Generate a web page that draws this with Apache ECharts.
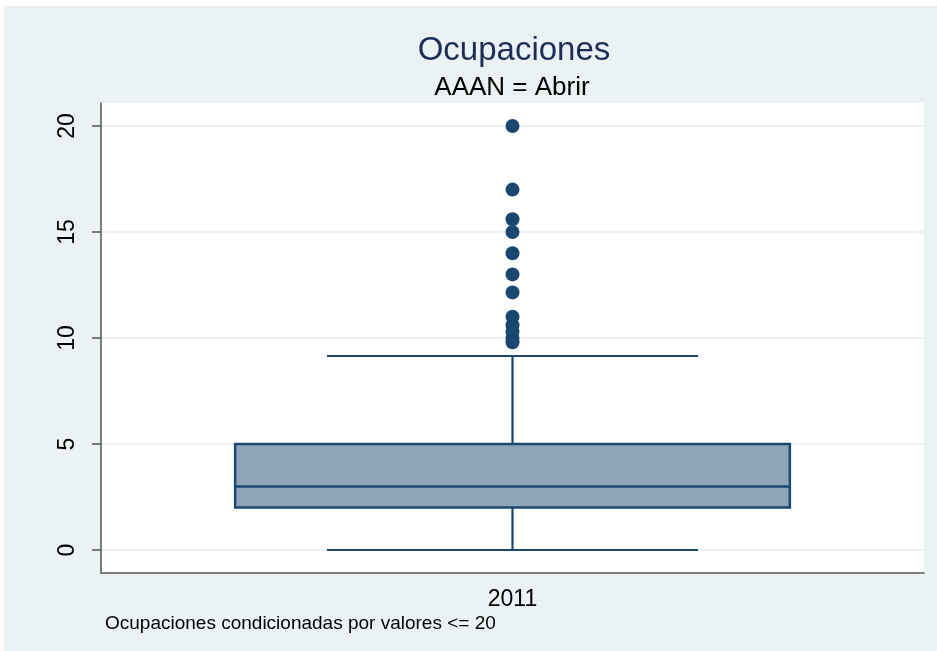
<!DOCTYPE html>
<html>
<head>
<meta charset="utf-8">
<script src="https://cdn.jsdelivr.net/npm/echarts@6/dist/echarts.min.js"></script>
<style>
    html, body { margin: 0; padding: 0; background: #ffffff; }
    #chart { position: absolute; left: 4px; top: 6px; width: 933px; height: 645px; }
</style>
</head>
<body>
<div id="chart"></div>
<script>
// box plot summary
const categories = ['2011'];
const lowerWhisker = [0];
const q1 = [2];
const median = [3];
const q3 = [5];
const upperWhisker = [9.15];
const outliers = [20, 17, 15.6, 15, 14, 13, 12.15, 11, 10.6, 10.3, 10, 9.8];
const yTicks = [0, 5, 10, 15, 20];

const navy = '#1a476f';
const font = 'Liberation Sans, Arial, sans-serif';

const chart = echarts.init(document.getElementById('chart'));

const boxData = categories.map((c, i) => [i, lowerWhisker[i], q1[i], median[i], q3[i], upperWhisker[i]]);

const option = {
    backgroundColor: '#eaf2f3',
    animation: false,
    title: [
        {
            text: 'Ocupaciones',
            left: 505, top: 23, textAlign: 'center',
            textStyle: { fontFamily: font, fontSize: 33, fontWeight: 'normal', color: '#1e2d58' }
        },
        {
            text: 'AAAN = Abrir',
            left: 503, top: 64, textAlign: 'center',
            textStyle: { fontFamily: font, fontSize: 26, fontWeight: 'normal', color: '#000' }
        },
        {
            text: 'Ocupaciones condicionadas por valores <= 20',
            left: 96, top: 603,
            textStyle: { fontFamily: font, fontSize: 19, fontWeight: 'normal', color: '#000' }
        }
    ],
    grid: [
        // data grid: 0..20 span
        { left: 97, right: 13, top: 120, bottom: 101 },
        // frame grid: white plot region with axis lines
        { left: 97, right: 13, top: 97, bottom: 78, show: true, backgroundColor: '#ffffff', borderWidth: 0, z: -5 }
    ],
    xAxis: [
        { type: 'category', gridIndex: 0, data: categories, show: false },
        {
            type: 'category', gridIndex: 1, data: categories,
            axisLine: { lineStyle: { color: '#555', width: 1.5 } },
            axisTick: { alignWithLabel: true, length: 8, lineStyle: { color: '#555', width: 1.5 } },
            axisLabel: { fontFamily: font, fontSize: 23, color: '#000', margin: 15 }
        }
    ],
    yAxis: [
        {
            type: 'value', gridIndex: 0, min: yTicks[0], max: yTicks[yTicks.length - 1], interval: 5,
            axisLine: { show: false },
            axisTick: { show: true, length: 9, lineStyle: { color: '#555', width: 1.5 } },
            axisLabel: { rotate: 90, fontFamily: font, fontSize: 23, color: '#000', margin: 22 },
            splitLine: { lineStyle: { color: '#eaf2f3', width: 2 } }
        },
        {
            type: 'value', gridIndex: 1, min: 0, max: 1,
            axisLine: { show: true, lineStyle: { color: '#555', width: 1.5 } },
            axisTick: { show: false },
            axisLabel: { show: false },
            splitLine: { show: false }
        }
    ],
    series: [
        {
            type: 'custom',
            xAxisIndex: 0, yAxisIndex: 0,
            data: boxData,
            renderItem: function (params, api) {
                const x = api.value(0);
                const band = api.size([1, 0])[0];
                const boxW = band * 0.674;
                const capW = band * 0.451;
                const pLo = api.coord([x, api.value(1)]);
                const pQ1 = api.coord([x, api.value(2)]);
                const pMed = api.coord([x, api.value(3)]);
                const pQ3 = api.coord([x, api.value(4)]);
                const pHi = api.coord([x, api.value(5)]);
                const cx = pQ1[0];
                const line = { stroke: navy, lineWidth: 2.2 };
                return {
                    type: 'group',
                    children: [
                        { type: 'line', shape: { x1: cx, y1: pLo[1], x2: cx, y2: pQ1[1] }, style: line },
                        { type: 'line', shape: { x1: cx, y1: pQ3[1], x2: cx, y2: pHi[1] }, style: line },
                        { type: 'line', shape: { x1: cx - capW / 2, y1: pLo[1], x2: cx + capW / 2, y2: pLo[1] }, style: line },
                        { type: 'line', shape: { x1: cx - capW / 2, y1: pHi[1], x2: cx + capW / 2, y2: pHi[1] }, style: line },
                        {
                            type: 'rect',
                            shape: { x: cx - boxW / 2, y: pQ3[1], width: boxW, height: pQ1[1] - pQ3[1] },
                            style: { fill: '#8ea4b8', stroke: navy, lineWidth: 2.5 }
                        },
                        { type: 'line', shape: { x1: cx - boxW / 2, y1: pMed[1], x2: cx + boxW / 2, y2: pMed[1] }, style: { stroke: navy, lineWidth: 2.5 } }
                    ]
                };
            }
        },
        {
            type: 'scatter',
            xAxisIndex: 0, yAxisIndex: 0,
            symbolSize: 14,
            itemStyle: { color: navy, opacity: 1 },
            data: outliers.map(v => [0, v])
        }
    ]
};

chart.setOption(option);
</script>
</body>
</html>
